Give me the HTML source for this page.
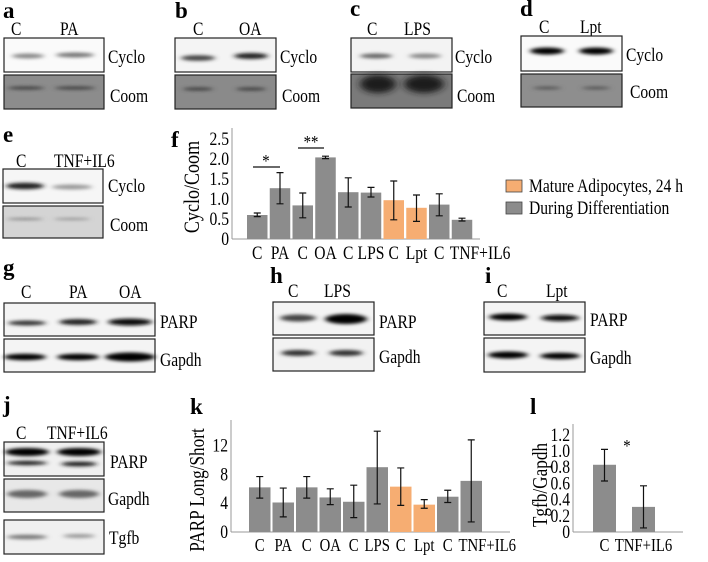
<!DOCTYPE html>
<html><head><meta charset="utf-8">
<style>
html,body{margin:0;padding:0;background:#fff;}
svg, svg text{font-family:"Liberation Serif","DejaVu Serif",serif;}
.pl{font-weight:bold;font-size:23px;}
.lb{font-size:19px;}
</style></head>
<body>
<svg id="fig" width="708" height="557" viewBox="0 0 708 557" xmlns="http://www.w3.org/2000/svg" font-family="Liberation Serif, serif">
<defs>
<filter id="bl" x="-30%" y="-200%" width="160%" height="500%"><feGaussianBlur stdDeviation="3 1.6"/></filter>
<filter id="bl2" x="-30%" y="-100%" width="160%" height="300%"><feGaussianBlur stdDeviation="4 3"/></filter>
</defs>

<g>
<text class="pl" x="3" y="18">a</text>
<text class="lb" x="11" y="35">C</text>
<text class="lb" x="60" y="35">PA</text>
<rect x="4" y="38" width="100" height="34" fill="#fafafa" stroke="#222" stroke-width="1.2"/>
<ellipse cx="28" cy="56" rx="16" ry="2.5" fill="#888" filter="url(#bl)"/>
<ellipse cx="75" cy="55" rx="19" ry="2.5" fill="#777" filter="url(#bl)"/>
<rect x="4" y="75" width="100" height="34" fill="#8c8c8c" stroke="#222" stroke-width="1.2"/>
<ellipse cx="26" cy="88" rx="18" ry="1.8" fill="#444" filter="url(#bl)"/>
<ellipse cx="75" cy="88" rx="20" ry="1.8" fill="#444" filter="url(#bl)"/>
<text class="lb" x="108" y="63">Cyclo</text>
<text class="lb" x="110" y="102">Coom</text>
</g>

<g>
<text class="pl" x="175" y="18">b</text>
<text class="lb" x="193" y="35">C</text>
<text class="lb" x="239" y="35">OA</text>
<rect x="175" y="38" width="101" height="34" fill="#f4f4f4" stroke="#222" stroke-width="1.2"/>
<ellipse cx="198" cy="58" rx="17" ry="2.8" fill="#444" filter="url(#bl)"/>
<ellipse cx="251" cy="56" rx="17" ry="3" fill="#222" filter="url(#bl)"/>
<rect x="175" y="75" width="101" height="34" fill="#8a8a8a" stroke="#222" stroke-width="1.2"/>
<ellipse cx="198" cy="89" rx="15" ry="1.8" fill="#444" filter="url(#bl)"/>
<ellipse cx="251" cy="89" rx="15" ry="1.8" fill="#444" filter="url(#bl)"/>
<text class="lb" x="280" y="63">Cyclo</text>
<text class="lb" x="282" y="102">Coom</text>
</g>

<g>
<text class="pl" x="350" y="16">c</text>
<text class="lb" x="367" y="35">C</text>
<text class="lb" x="404" y="35">LPS</text>
<rect x="351" y="38" width="101" height="34" fill="#f3f3f3" stroke="#222" stroke-width="1.2"/>
<ellipse cx="376" cy="56" rx="16" ry="2.5" fill="#666" filter="url(#bl)"/>
<ellipse cx="425" cy="56" rx="16" ry="2.5" fill="#888" filter="url(#bl)"/>
<rect x="351" y="74" width="101" height="34" fill="#7a7a7a" stroke="#222" stroke-width="1.2"/>
<ellipse cx="378" cy="84" rx="18" ry="9" fill="#1a1a1a" filter="url(#bl2)"/>
<ellipse cx="424" cy="84" rx="20" ry="9" fill="#1a1a1a" filter="url(#bl2)"/>
<text class="lb" x="455" y="63">Cyclo</text>
<text class="lb" x="457" y="102">Coom</text>
</g>

<g>
<text class="pl" x="520" y="16">d</text>
<text class="lb" x="539" y="33">C</text>
<text class="lb" x="580" y="33">Lpt</text>
<rect x="521" y="36" width="101" height="35" fill="#fafafa" stroke="#222" stroke-width="1.2"/>
<ellipse cx="547" cy="51" rx="17" ry="3.5" fill="#000" filter="url(#bl)"/>
<ellipse cx="596" cy="51" rx="17" ry="3.5" fill="#000" filter="url(#bl)"/>
<rect x="521" y="74" width="101" height="33" fill="#8e8e8e" stroke="#222" stroke-width="1.2"/>
<ellipse cx="547" cy="88" rx="14" ry="1.5" fill="#555" filter="url(#bl)"/>
<ellipse cx="596" cy="88" rx="14" ry="1.5" fill="#555" filter="url(#bl)"/>
<text class="lb" x="626" y="61">Cyclo</text>
<text class="lb" x="630" y="98">Coom</text>
</g>

<g>
<text class="pl" x="3" y="142">e</text>
<text class="lb" x="16" y="167">C</text>
<text class="lb" x="54" y="167">TNF+IL6</text>
<rect x="3" y="169" width="100" height="34" fill="#f6f6f6" stroke="#222" stroke-width="1.2"/>
<ellipse cx="25" cy="186" rx="19" ry="3.3" fill="#222" filter="url(#bl)"/>
<ellipse cx="72" cy="187" rx="20" ry="2.5" fill="#999" filter="url(#bl)"/>
<rect x="3" y="206" width="100" height="32" fill="#d4d4d4" stroke="#222" stroke-width="1.2"/>
<ellipse cx="25" cy="219" rx="18" ry="1" fill="#777" filter="url(#bl)"/>
<ellipse cx="72" cy="219" rx="18" ry="1" fill="#888" filter="url(#bl)"/>
<text class="lb" x="108" y="192">Cyclo</text>
<text class="lb" x="110" y="231">Coom</text>
</g>

<g>
<text class="pl" x="3" y="275">g</text>
<text class="lb" x="21" y="298">C</text>
<text class="lb" x="69" y="298">PA</text>
<text class="lb" x="119" y="298">OA</text>
<rect x="4" y="303" width="151" height="33" fill="#f4f4f4" stroke="#222" stroke-width="1.2"/>
<ellipse cx="27" cy="323" rx="19" ry="2.5" fill="#333" filter="url(#bl)"/>
<ellipse cx="78" cy="322" rx="19" ry="3" fill="#222" filter="url(#bl)"/>
<ellipse cx="130" cy="322" rx="22" ry="3.5" fill="#111" filter="url(#bl)"/>
<rect x="4" y="339" width="151" height="33" fill="#f4f4f4" stroke="#222" stroke-width="1.2"/>
<ellipse cx="25" cy="357" rx="21" ry="3.3" fill="#000" filter="url(#bl)"/>
<ellipse cx="78" cy="357" rx="21" ry="3.3" fill="#000" filter="url(#bl)"/>
<ellipse cx="130" cy="357" rx="25" ry="4.5" fill="#000" filter="url(#bl)"/>
<text class="lb" x="160" y="328">PARP</text>
<text class="lb" x="160" y="366">Gapdh</text>
</g>

<g>
<text class="pl" x="270" y="283">h</text>
<text class="lb" x="288" y="297">C</text>
<text class="lb" x="324" y="297">LPS</text>
<rect x="273" y="302" width="101" height="33" fill="#f4f4f4" stroke="#222" stroke-width="1.2"/>
<ellipse cx="298" cy="318" rx="18" ry="3.5" fill="#444" filter="url(#bl)"/>
<ellipse cx="346" cy="319" rx="21" ry="5" fill="#000" filter="url(#bl)"/>
<rect x="273" y="338" width="101" height="33" fill="#f2f2f2" stroke="#222" stroke-width="1.2"/>
<ellipse cx="298" cy="353" rx="17" ry="3" fill="#333" filter="url(#bl)"/>
<ellipse cx="346" cy="353" rx="17" ry="3" fill="#333" filter="url(#bl)"/>
<text class="lb" x="379" y="328">PARP</text>
<text class="lb" x="379" y="363">Gapdh</text>
</g>

<g>
<text class="pl" x="485" y="283">i</text>
<text class="lb" x="497" y="297">C</text>
<text class="lb" x="546" y="297">Lpt</text>
<rect x="484" y="302" width="101" height="33" fill="#f4f4f4" stroke="#222" stroke-width="1.2"/>
<ellipse cx="508" cy="317" rx="19" ry="3.5" fill="#000" filter="url(#bl)"/>
<ellipse cx="560" cy="318" rx="19" ry="3.2" fill="#111" filter="url(#bl)"/>
<rect x="484" y="338" width="101" height="34" fill="#f4f4f4" stroke="#222" stroke-width="1.2"/>
<ellipse cx="508" cy="355" rx="20" ry="3.5" fill="#000" filter="url(#bl)"/>
<ellipse cx="560" cy="356" rx="20" ry="3.2" fill="#000" filter="url(#bl)"/>
<text class="lb" x="590" y="326">PARP</text>
<text class="lb" x="590" y="364">Gapdh</text>
</g>

<g>
<text class="pl" x="3" y="412">j</text>
<text class="lb" x="16" y="439">C</text>
<text class="lb" x="47" y="439">TNF+IL6</text>
<rect x="4" y="442" width="100" height="34" fill="#f0f0f0" stroke="#222" stroke-width="1.2"/>
<ellipse cx="27" cy="452" rx="22" ry="4" fill="#000" filter="url(#bl)"/>
<ellipse cx="79" cy="452" rx="22" ry="4" fill="#000" filter="url(#bl)"/>
<ellipse cx="27" cy="463" rx="20" ry="2.2" fill="#222" filter="url(#bl)"/>
<ellipse cx="79" cy="464" rx="18" ry="2.4" fill="#222" filter="url(#bl)"/>
<rect x="4" y="479" width="100" height="33" fill="#e8e8e8" stroke="#222" stroke-width="1.2"/>
<ellipse cx="27" cy="494" rx="20" ry="4" fill="#666" filter="url(#bl)"/>
<ellipse cx="79" cy="494" rx="20" ry="4" fill="#666" filter="url(#bl)"/>
<rect x="4" y="520" width="100" height="34" fill="#f0f0f0" stroke="#222" stroke-width="1.2"/>
<ellipse cx="27" cy="537" rx="20" ry="2.3" fill="#777" filter="url(#bl)"/>
<ellipse cx="79" cy="536" rx="16" ry="2" fill="#999" filter="url(#bl)"/>
<text class="lb" x="110" y="468">PARP</text>
<text class="lb" x="108" y="505">Gapdh</text>
<text class="lb" x="109" y="544">Tgfb</text>
</g>

<text class="pl" x="171" y="147">f</text>
<text class="pl" x="190" y="414">k</text>
<text class="pl" x="530" y="414">l</text>

<g id="chartF"></g>
<g id="chartK"></g>
<g id="chartL"></g>

<g>
<rect x="506" y="180" width="16" height="12" fill="#f6ad72" stroke="#444" stroke-width="0.8"/>
<text x="529" y="192" font-size="19">Mature Adipocytes, 24 h</text>
<rect x="506" y="202" width="16" height="12" fill="#8c8c8c" stroke="#444" stroke-width="0.8"/>
<text x="529" y="214" font-size="19">During Differentiation</text>
</g>
</svg>

<script>
// ---- chart f data ----
const fCats = ["C","PA","C","OA","C","LPS","C","Lpt","C","TNF+IL6"];
const fVals = [0.60,1.27,0.84,2.04,1.17,1.16,0.97,0.78,0.86,0.48];
const fLow  = [0.56,0.88,0.53,2.01,0.80,1.05,0.48,0.44,0.58,0.45];
const fHigh = [0.65,1.66,1.15,2.07,1.53,1.29,1.45,1.10,1.13,0.52];
const fMature = [0,0,0,0,0,0,1,1,0,0];
const fTicks = [0,0.5,1.0,1.5,2.0,2.5];
const fTickLabels = ["0","0.5","1.0","1.5","2.0","2.5"];
// ---- chart k data ----
const kCats = ["C","PA","C","OA","C","LPS","C","Lpt","C","TNF+IL6"];
const kVals = [6.2,4.1,6.2,4.8,4.2,9.0,6.3,3.8,4.9,7.1];
const kLow  = [4.7,2.1,4.7,3.8,2.0,3.9,3.7,3.3,4.1,1.4];
const kHigh = [7.7,6.1,7.7,6.0,6.5,14.0,8.9,4.5,5.8,12.8];
const kMature = [0,0,0,0,0,0,1,1,0,0];
const kTicks = [0,4,8,12];
const kTickLabels = ["0","4","8","12"];
// ---- chart l data ----
const lCats = ["C","TNF+IL6"];
const lVals = [0.83,0.31];
const lLow  = [0.63,0.05];
const lHigh = [1.02,0.57];
const lTicks = [0,0.2,0.4,0.6,0.8,1.0,1.2];
const lTickLabels = ["0","0.2","0.4","0.6","0.8","1.0","1.2"];

const NS="http://www.w3.org/2000/svg";
function mk(parent,tag,attrs,txt){const e=document.createElementNS(NS,tag);for(const k in attrs)e.setAttribute(k,attrs[k]);if(txt!==undefined)e.textContent=txt;parent.appendChild(e);return e;}

function drawChart(g,o){
  const y=v=>o.y0-(v-o.vmin)*o.ppu;
  const x=i=>o.x0+i*o.step;
  const ax=mk(g,'line',{x1:o.axX,y1:o.axTop,x2:o.axX,y2:o.y0,stroke:'#999','stroke-width':1});
  
  
  const bx=mk(g,'line',{x1:o.axX,y1:o.y0,x2:o.axEnd,y2:o.y0,stroke:'#999','stroke-width':1});
  
  
  o.ticks.forEach((t,i)=>{
    const tl=mk(g,'text',{x:o.axX-3,y:y(t)+6,'text-anchor':'end','font-size':o.tfs},o.tickLabels[i]);
    
    
  });
  o.vals.forEach((v,i)=>{
    const b=mk(g,'rect',{x:x(i),y:y(v),width:o.bw,height:o.y0-y(v),fill:o.mature&&o.mature[i]?'#f6ad72':'#8c8c8c'});
    
    
    const cx=x(i)+o.bw/2;
    const e=mk(g,'path',{d:`M${cx},${y(o.high[i])}V${y(o.low[i])}M${cx-3.5},${y(o.high[i])}H${cx+3.5}M${cx-3.5},${y(o.low[i])}H${cx+3.5}`,stroke:'#111','stroke-width':1.2,fill:'none'});
    
    
    const long=o.cats[i].length>4 && o.startLong;
    const l=mk(g,'text',{x:long?x(i)-2:cx,y:o.labY,'text-anchor':long?'start':'middle','font-size':o.lfs},o.cats[i]);
    
    
  });
  const t=mk(g,'text',{transform:`translate(${o.ylX},${o.ylY}) rotate(-90)`,'text-anchor':'middle','font-size':o.ylfs},o.ylabel);
  
  
  return {x,y};
}

const gF=document.getElementById('chartF');
drawChart(gF,{vals:fVals,low:fLow,high:fHigh,cats:fCats,mature:fMature,ticks:fTicks,tickLabels:fTickLabels,startLong:true,
  vmin:0,ppu:40,y0:239,x0:247,step:22.75,bw:20.5,axX:232,axTop:128,axEnd:480,labY:259,tfs:19,lfs:19,ylX:199,ylY:187,ylfs:22,ylabel:'Cyclo/Coom'});
const s1=mk(gF,'line',{x1:253,y1:167,x2:280,y2:167,stroke:'#111','stroke-width':1.2});


const st1=mk(gF,'text',{x:266,y:167,'text-anchor':'middle','font-size':18},'*');


const s2=mk(gF,'line',{x1:298,y1:148,x2:324,y2:148,stroke:'#111','stroke-width':1.2});


const st2=mk(gF,'text',{x:311,y:148,'text-anchor':'middle','font-size':18},'**');



const gK=document.getElementById('chartK');
drawChart(gK,{vals:kVals,low:kLow,high:kHigh,cats:kCats,mature:kMature,ticks:kTicks,tickLabels:kTickLabels,startLong:true,
  vmin:0,ppu:7.2,y0:532,x0:249,step:23.5,bw:21.5,axX:231,axTop:420,axEnd:510,labY:551,tfs:19,lfs:18,ylX:204,ylY:490,ylfs:21,ylabel:'PARP Long/Short'});

const gL=document.getElementById('chartL');
drawChart(gL,{vals:lVals,low:lLow,high:lHigh,cats:lCats,ticks:lTicks,tickLabels:lTickLabels,
  vmin:0,ppu:81,y0:532,x0:593,step:39,bw:23,axX:573,axTop:424,axEnd:683,labY:551,tfs:19,lfs:18,ylX:547,ylY:485,ylfs:21,ylabel:'Tgfb/Gapdh'});
const st3=mk(gL,'text',{x:627,y:452,'text-anchor':'middle','font-size':18},'*');



// condense text horizontally to mimic the narrow Times face of the reference
document.querySelectorAll('#fig text').forEach(t=>{
  if(t.classList.contains('pl')) return;
  const w=t.getComputedTextLength();
  if(w>0){t.setAttribute('textLength',(w*0.82).toFixed(1));t.setAttribute('lengthAdjust','spacingAndGlyphs');}
});
</script>
</body></html>
